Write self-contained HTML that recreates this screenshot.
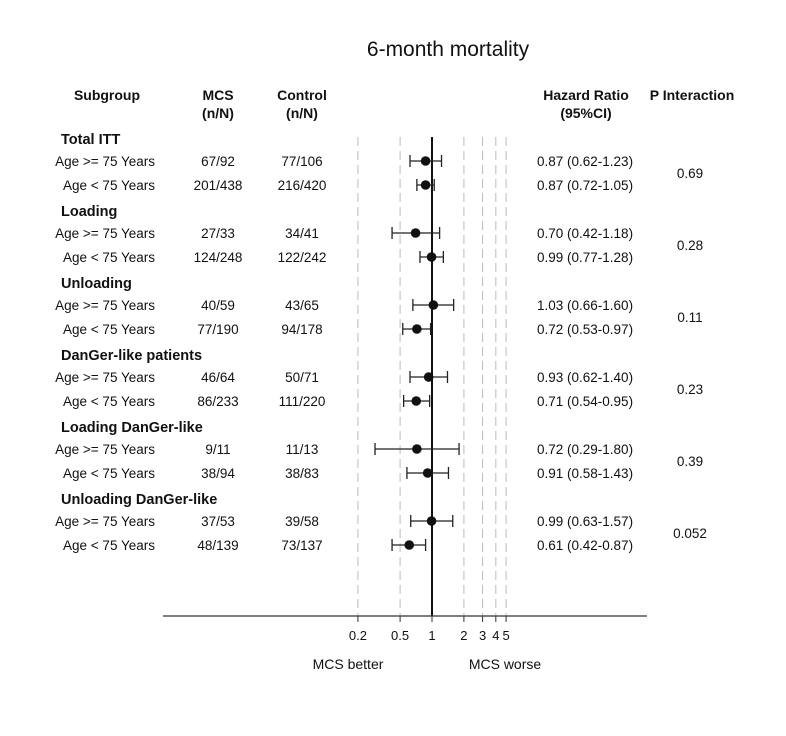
<!DOCTYPE html>
<html><head><meta charset="utf-8"><style>
body{margin:0;background:#fff}
svg text{font-family:"Liberation Sans",Arial,sans-serif;fill:#111}
</style></head><body>
<svg width="786" height="731" viewBox="0 0 786 731">
<text x="448" y="56" font-size="21" text-anchor="middle">6-month mortality</text>
<g font-size="14" font-weight="bold">
<text x="107" y="100" text-anchor="middle">Subgroup</text>
<text x="218" y="100" text-anchor="middle">MCS</text>
<text x="218" y="118" text-anchor="middle">(n/N)</text>
<text x="302" y="100" text-anchor="middle">Control</text>
<text x="302" y="118" text-anchor="middle">(n/N)</text>
<text x="586" y="100" text-anchor="middle">Hazard Ratio</text>
<text x="586" y="118" text-anchor="middle">(95%CI)</text>
<text x="692" y="100" text-anchor="middle">P Interaction</text>
</g>
<g id="grid"></g>
<g id="marks"></g>
<g id="axis"></g>
<text x="348" y="669" font-size="14" text-anchor="middle">MCS better</text>
<text x="505" y="669" font-size="14" text-anchor="middle">MCS worse</text>
</svg>
<script>
const groups=["Total ITT","Loading","Unloading","DanGer-like patients","Loading DanGer-like","Unloading DanGer-like"];
const rowLabels=["Age >= 75 Years","Age < 75 Years"];
const mcs=["67/92","201/438","27/33","124/248","40/59","77/190","46/64","86/233","9/11","38/94","37/53","48/139"];
const ctrl=["77/106","216/420","34/41","122/242","43/65","94/178","50/71","111/220","11/13","38/83","39/58","73/137"];
const hr=[0.87,0.87,0.70,0.99,1.03,0.72,0.93,0.71,0.72,0.91,0.99,0.61];
const lo=[0.62,0.72,0.42,0.77,0.66,0.53,0.62,0.54,0.29,0.58,0.63,0.42];
const hi=[1.23,1.05,1.18,1.28,1.60,0.97,1.40,0.95,1.80,1.43,1.57,0.87];
const pInt=["0.69","0.28","0.11","0.23","0.39","0.052"];
const ticks=[0.2,0.5,1,2,3,4,5];
const tickLabels=["0.2","0.5","1","2","3","4","5"];
const NS="http://www.w3.org/2000/svg";
const svg=document.querySelector('svg');
const X=v=>432+106*Math.log10(v);
const rowY=i=>161+Math.floor(i/2)*72+(i%2)*24;
function mk(tag,attrs,parent,txt){const e=document.createElementNS(NS,tag);for(const k in attrs)e.setAttribute(k,attrs[k]);if(txt!==undefined)e.textContent=txt;parent.appendChild(e);return e;}
const grid=document.getElementById('grid'),marks=document.getElementById('marks'),axis=document.getElementById('axis');
ticks.forEach((t,i)=>{
 if(t!==1){const l=mk('line',{x1:X(t),x2:X(t),y1:137,y2:616,stroke:'#bbb','stroke-width':1,'stroke-dasharray':'9,5'},grid);
 
 }
 const tk=mk('line',{x1:X(t),x2:X(t),y1:616,y2:622,stroke:'#333'},axis);
 
 
 const tl=mk('text',{x:X(t),y:640,'font-size':13,'text-anchor':'middle'},axis,tickLabels[i]);
 
 
});
const ref=mk('line',{x1:X(1),x2:X(1),y1:137,y2:616,stroke:'#111','stroke-width':2},grid);


const al=mk('line',{x1:163,x2:647,y1:616,y2:616,stroke:'#333','stroke-width':1.3},axis);


groups.forEach((g,gi)=>{
 const y=139+gi*72;
 const t=mk('text',{x:61,y:y+5,'font-size':14.5,'font-weight':'bold'},svg,g);
 
 
 const p=mk('text',{x:690,y:y+39,'font-size':13.5,'text-anchor':'middle'},svg,pInt[gi]);
 
 
});
hr.forEach((v,i)=>{
 const y=rowY(i);
 const a=mk('text',{x:155,y:y+5,'font-size':13.5,'text-anchor':'end'},svg,rowLabels[i%2]);
 
 
 const b=mk('text',{x:218,y:y+5,'font-size':13.5,'text-anchor':'middle'},svg,mcs[i]);
 
 
 const c=mk('text',{x:302,y:y+5,'font-size':13.5,'text-anchor':'middle'},svg,ctrl[i]);
 
 
 const d=mk('text',{x:537,y:y+5,'font-size':13.5},svg,v.toFixed(2)+' ('+lo[i].toFixed(2)+'-'+hi[i].toFixed(2)+')');
 
 
 const g=mk('g',{stroke:'#222','stroke-width':1.3},marks);
 
 
 mk('line',{x1:X(lo[i]),x2:X(hi[i]),y1:y,y2:y},g);
 mk('line',{x1:X(lo[i]),x2:X(lo[i]),y1:y-6,y2:y+6},g);
 mk('line',{x1:X(hi[i]),x2:X(hi[i]),y1:y-6,y2:y+6},g);
 const pt=mk('circle',{cx:X(v),cy:y,r:4.8,fill:'#111'},marks);
 
 
});
</script>
</body></html>
